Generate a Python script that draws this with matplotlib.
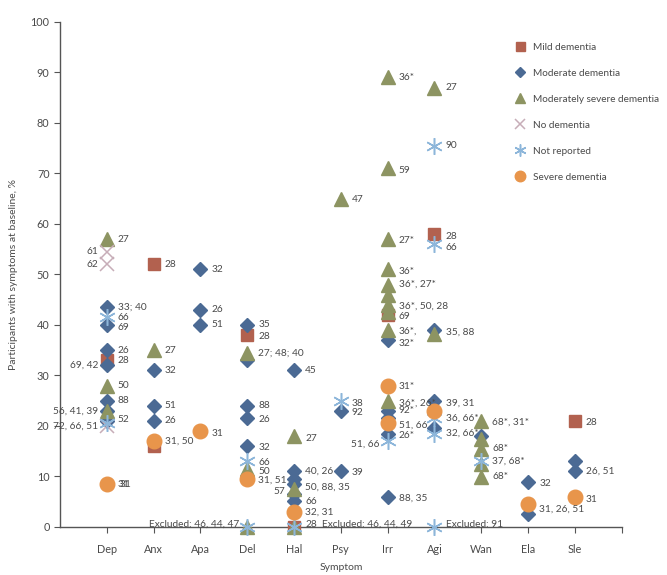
import matplotlib
matplotlib.use("Agg")
import matplotlib.pyplot as plt
from matplotlib.lines import Line2D

plt.rcParams['font.family'] = ['Lato', 'DejaVu Sans']

categories = ['Dep', 'Anx', 'Apa', 'Del', 'Hal', 'Psy', 'Irr', 'Agi', 'Wan', 'Ela', 'Sle']

# Mild dementia
mild_cat = [0, 1, 1, 3, 4, 6, 7, 10]
mild_val = [33, 52, 16, 38, 0, 42, 58, 21]

# Moderate dementia
moderate_cat = [0, 0, 0, 0, 0, 0, 0,
                1, 1, 1,
                2, 2, 2,
                3, 3, 3, 3, 3,
                4, 4, 4, 4, 4, 4,
                5, 5,
                6, 6, 6, 6, 6,
                7, 7, 7,
                8,
                9, 9,
                10, 10]
moderate_val = [43.5, 40, 35, 32, 25, 23, 21,
                31, 24, 21,
                51, 43, 40,
                40, 33, 24, 21.5, 16,
                31, 11, 9.5, 8.5, 6.5, 5.2,
                23, 11,
                37, 23, 21.5, 18.5, 6,
                39, 25, 19.5,
                18,
                9, 2.5,
                13, 11]

# Moderately severe dementia
modsev_cat = [0, 0, 0,
              1,
              3, 3, 3,
              4, 4, 4,
              5,
              6, 6, 6, 6, 6, 6, 6, 6, 6, 6,
              7, 7,
              8, 8, 8, 8, 8]
modsev_val = [57, 28, 23,
              35,
              34.5, 11.5, 0,
              18, 7.6, 0,
              65,
              89, 71, 57, 51, 48, 46, 44, 42.5, 39, 25,
              87, 38.3,
              21, 17.5, 15.5, 12.5, 9.8]

# No dementia
nodem_cat = [0, 0, 0]
nodem_val = [54.5, 52, 20]

# Not reported
notrep_cat = [0, 0, 3, 3, 4, 5, 6, 7, 7, 7, 7, 7, 8]
notrep_val = [41.5, 20.5, 13, 0, 0, 25, 17, 75.5, 56, 21.5, 18.5, 0, 13]

# Severe dementia
severe_cat = [0, 1, 2, 3, 4, 6, 6, 7, 9, 10]
severe_val = [8.5, 17, 19, 9.5, 3, 28, 20.5, 23, 4.5, 6]

# Point labels: category, value, text, side (R/L)
lab_cat = [0, 0, 0, 0, 0, 0, 0, 0, 0, 0, 0, 0, 0, 0, 0,
           1, 1, 1, 1, 1, 1,
           2, 2, 2, 2,
           3, 3, 3, 3, 3, 3, 3, 3, 3, 3,
           4, 4, 4, 4, 4, 4, 4, 4, 4,
           5, 5, 5, 5,
           6, 6, 6, 6, 6, 6, 6, 6, 6, 6, 6, 6, 6, 6, 6, 6,
           7, 7, 7, 7, 7, 7, 7, 7, 7,
           8, 8, 8, 8,
           9, 9,
           10, 10, 10]
lab_val = [57, 54.5, 52, 43.5, 41.5, 39.5, 35, 33, 32, 28, 25, 23, 21.3, 20, 8.5,
           52, 35, 31, 24, 21, 17,
           51, 43, 40, 18.5,
           40, 37.8, 34.5, 24, 21.3, 15.8, 12.7, 11, 9.2, 0.5,
           31, 17.5, 11, 7.8, 5, 3, 0.5, 0.5, 7,
           64.8, 24.5, 22.6, 10.8,
           89, 70.5, 56.8, 50.5, 48, 43.8, 41.6, 38.8, 36.3, 27.8, 24.5, 23, 20.2, 18.2, 16.4, 5.8,
           87, 75.5, 57.6, 55.4, 38.6, 24.5, 21.5, 18.6, 0.5,
           20.7, 15.6, 13, 10,
           8.6, 3.5,
           20.7, 11, 5.5]
lab_text = ['27', '61', '62', '33; 40', '66', '69', '26', '28', '69, 42', '50', '88', '56, 41, 39', '52', '72, 66, 51', '31',
            '28', '27', '32', '51', '26', '31, 50',
            '32', '26', '51', '31',
            '35', '28', '27; 48; 40', '88', '26', '32', '66', '50', '31, 51', 'Excluded: 46, 44, 47',
            '45', '27', '40, 26', '50, 88, 35', '66', '32, 31', '28', 'Excluded: 46, 44, 49', '57',
            '47', '38', '92', '39',
            '36*', '59', '27*', '36*', '36*, 27*', '36*, 50, 28', '69', '36*,', '32*', '31*', '36*, 26*', '92*', '51, 66', '26*', '51, 66', '88, 35',
            '27', '90', '28', '66', '35, 88', '39, 31', '36, 66*', '32, 66*', 'Excluded: 91',
            '68*, 31*', '68*', '37, 68*', '68*',
            '32', '31, 26, 51',
            '28', '26, 51', '31']
lab_side = ['R', 'L', 'L', 'R', 'R', 'R', 'R', 'R', 'L', 'R', 'R', 'L', 'R', 'L', 'R',
            'R', 'R', 'R', 'R', 'R', 'R',
            'R', 'R', 'R', 'R',
            'R', 'R', 'R', 'R', 'R', 'R', 'R', 'R', 'R', 'L',
            'R', 'R', 'R', 'R', 'R', 'R', 'R', 'X', 'L',
            'R', 'R', 'R', 'R',
            'R', 'R', 'R', 'R', 'R', 'R', 'R', 'R', 'R', 'R', 'R', 'R', 'R', 'R', 'L', 'R',
            'R', 'R', 'R', 'R', 'R', 'R', 'R', 'R', 'R',
            'R', 'R', 'R', 'R',
            'R', 'R',
            'R', 'R', 'R']

c_mild = '#B2614F'
c_mod = '#4B6A94'
c_msev = '#8D9462'
c_nodem = '#C7ADB8'
c_notrep = '#8DB6DA'
c_sev = '#E8954B'
txt_col = '#4a4a4a'

fig = plt.figure(figsize=(6.67, 5.75), dpi=100)
ax = fig.add_axes([0.09, 0.0835, 0.842, 0.8785])

star6 = (6, 2, 0)
series = [
    ('Mild dementia', mild_cat, mild_val, dict(marker='s', color=c_mild, ms=9)),
    ('Moderate dementia', moderate_cat, moderate_val, dict(marker='D', color=c_mod, ms=7.2)),
    ('Moderately severe dementia', modsev_cat, modsev_val, dict(marker='^', color=c_msev, ms=10)),
    ('No dementia', nodem_cat, nodem_val, dict(marker='x', color=c_nodem, ms=9.5, mew=1.1)),
    ('Not reported', notrep_cat, notrep_val, dict(marker=star6, color=c_notrep, ms=12, mew=1.1)),
    ('Severe dementia', severe_cat, severe_val, dict(marker='o', color=c_sev, ms=10.5)),
]
for name, cats, vals, st in series:
    ax.plot(cats, vals, linestyle='none', clip_on=False, zorder=3, mec=st['color'], **st)

for c, v, t, s in zip(lab_cat, lab_val, lab_text, lab_side):
    if s == 'R':
        ax.annotate(t, (c, v), xytext=(8, 0), textcoords='offset points',
                    ha='left', va='center', fontsize=7.3, color=txt_col, zorder=5)
    elif s == 'L':
        ax.annotate(t, (c, v), xytext=(-6, 0), textcoords='offset points',
                    ha='right', va='center', fontsize=7.3, color=txt_col, zorder=5)
    else:
        ax.annotate(t, (c, v), xytext=(20, 0), textcoords='offset points',
                    ha='left', va='center', fontsize=7.3, color=txt_col, zorder=5)
# overlapping duplicate label at Dep severe
ax.annotate('31', (0, 8.5), xytext=(9, 0), textcoords='offset points',
            ha='left', va='center', fontsize=7.3, color=txt_col, zorder=5)

ax.set_xlim(-1, 11)
ax.set_ylim(0, 100)
ax.set_xticks(list(range(len(categories) + 1)))
ax.set_xticklabels(categories + [''])
ax.set_yticks(range(0, 101, 10))
for sp in ['top', 'right']:
    ax.spines[sp].set_visible(False)
for sp in ['left', 'bottom']:
    ax.spines[sp].set_color('#555555')
    ax.spines[sp].set_linewidth(1.0)
ax.tick_params(colors='#555555', labelcolor=txt_col, labelsize=7.8, length=4, width=0.8)
ax.tick_params(axis='x', pad=8)
ax.set_xlabel('Symptom', fontsize=7.5, color=txt_col, labelpad=6)
ax.set_ylabel('Participants with symptoms at baseline, %', fontsize=7.5, color=txt_col)
ax.yaxis.set_label_coords(-0.075, 0.5)

handles = [Line2D([], [], linestyle='none', mec=st['color'], **st) for _, _, _, st in series]
for h in handles:
    h.set_markersize(h.get_markersize() * 0.72)
fig.legend(handles, [s[0] for s in series], loc='upper left', bbox_to_anchor=(0.759, 0.941),
           frameon=False, fontsize=7.2, labelspacing=1.7, handletextpad=0.75,
           handlelength=1.0, labelcolor=txt_col)

fig.savefig('out.png', dpi=100)
